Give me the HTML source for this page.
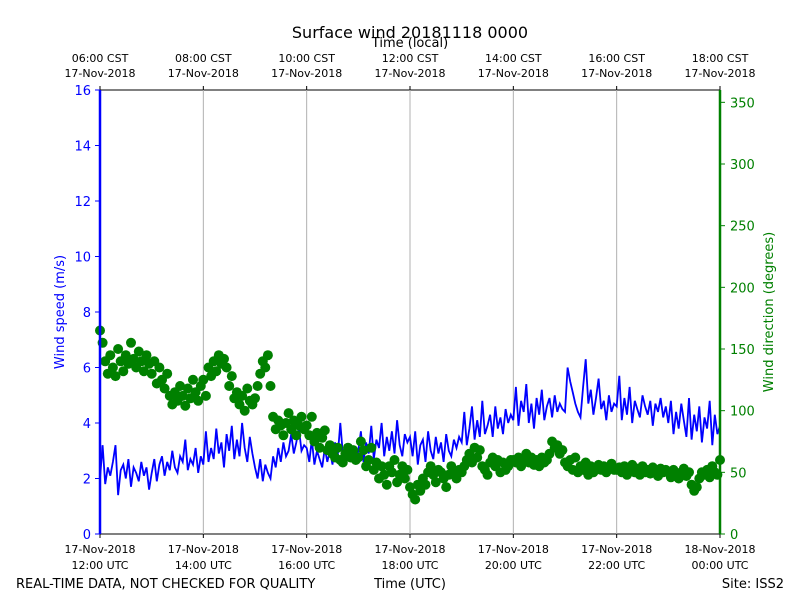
<!DOCTYPE html>
<html><head><meta charset="utf-8"><style>
body{margin:0;background:#fff}
svg text{font-family:"DejaVu Sans","Liberation Sans",sans-serif}
</style></head><body>
<svg id="chart" width="800" height="600" viewBox="0 0 800 600">
<text x="410" y="38" font-size="16" text-anchor="middle">Surface wind 20181118 0000</text>
<text x="410" y="47" font-size="13" text-anchor="middle">Time (local)</text>
<rect x="100" y="90" width="620" height="444" fill="none" stroke="#000"/>
<g id="grid"></g><g id="xticks"></g><g id="yticks"></g>
<g id="speed"></g><g id="dir"></g>
<line x1="100" y1="90" x2="100" y2="534" stroke="blue" stroke-width="2.5"/>
<line x1="720" y1="90" x2="720" y2="534" stroke="green" stroke-width="2.5"/>
<text transform="translate(64,312) rotate(-90)" font-size="13" fill="blue" text-anchor="middle">Wind speed (m/s)</text>
<text transform="translate(773,312) rotate(-90)" font-size="13" fill="green" text-anchor="middle">Wind direction (degrees)</text>
<text x="16" y="588" font-size="13">REAL-TIME DATA, NOT CHECKED FOR QUALITY</text>
<text x="410" y="588" font-size="13" text-anchor="middle">Time (UTC)</text>
<text x="784" y="588" font-size="13" text-anchor="end">Site: ISS2</text>
</svg>
<script>
const utcLabels=["12:00 UTC","14:00 UTC","16:00 UTC","18:00 UTC","20:00 UTC","22:00 UTC","00:00 UTC"];
const utcDates=["17-Nov-2018","17-Nov-2018","17-Nov-2018","17-Nov-2018","17-Nov-2018","17-Nov-2018","18-Nov-2018"];
const cstLabels=["06:00 CST","08:00 CST","10:00 CST","12:00 CST","14:00 CST","16:00 CST","18:00 CST"];
const speedTicks=[0,2,4,6,8,10,12,14,16];
const dirTicks=[0,50,100,150,200,250,300,350];
const speed=[2.0,3.2,1.8,2.4,2.1,2.6,3.2,1.4,2.3,2.5,2.0,2.7,1.7,2.4,2.2,1.9,2.6,2.1,2.4,1.6,
2.2,2.7,1.9,2.5,2.8,2.1,2.6,2.3,3.0,2.4,2.2,2.8,2.6,3.4,2.3,2.7,2.5,3.1,2.2,2.8,
2.5,3.7,2.6,3.1,2.7,3.8,2.9,3.3,2.4,3.6,3.0,3.9,2.7,3.4,2.8,4.0,3.1,2.6,3.5,2.9,
2.4,2.0,2.7,1.9,2.5,2.2,2.0,2.8,2.4,3.1,2.6,3.3,2.8,3.0,3.6,2.9,3.3,3.8,3.0,3.2,
3.1,2.6,3.4,2.5,3.0,2.7,2.4,3.1,2.6,3.0,2.5,3.3,2.8,4.0,2.9,2.6,3.2,2.7,3.0,2.6,
3.0,3.7,2.6,3.3,2.9,3.9,2.7,3.4,3.1,4.0,2.8,3.5,3.0,3.7,2.9,4.1,3.2,2.8,3.6,3.3,
3.5,2.8,3.7,2.5,3.2,3.4,2.6,3.7,3.0,2.7,3.5,2.9,3.3,2.6,3.6,3.0,2.8,3.4,3.1,3.5,
3.3,4.4,3.2,3.8,4.6,3.4,4.1,3.5,4.8,3.6,3.9,4.3,3.5,4.6,3.8,4.2,3.6,4.5,4.0,4.3,
4.1,5.3,3.9,4.8,4.4,5.4,4.0,4.7,3.8,4.9,4.3,5.2,4.1,4.6,4.9,4.2,5.0,4.4,4.7,4.5,
4.4,6.0,5.5,5.1,4.7,4.4,4.2,5.3,6.3,4.7,5.2,4.3,4.9,5.6,4.5,4.8,4.1,5.0,4.4,4.7,
4.6,5.7,4.1,4.9,4.3,5.3,4.0,4.8,4.5,4.2,5.0,4.6,4.3,4.8,3.9,4.7,4.4,4.9,4.2,4.6,
4.0,4.8,3.6,4.4,3.8,4.7,4.1,3.5,4.9,3.4,4.3,3.7,4.6,3.3,4.2,3.8,4.8,3.2,4.3,3.6,3.9];
const direction=[165,155,140,130,145,135,128,150,140,132,145,138,155,142,135,148,140,132,145,138,
130,140,122,135,125,118,130,112,105,115,108,120,112,104,118,110,125,115,108,120,
125,112,135,128,140,132,145,138,142,135,120,128,110,115,105,112,100,118,108,105,
110,120,130,140,135,145,120,95,85,92,88,80,90,98,85,92,80,88,95,85,
88,80,95,75,82,70,78,84,68,72,65,62,70,60,58,65,70,62,68,60,
62,75,68,55,60,70,52,58,45,55,48,40,55,50,60,42,48,55,45,52,
38,32,28,40,35,45,40,50,55,48,42,52,50,45,38,48,55,50,45,52,
50,55,60,65,58,70,62,68,55,52,48,58,62,55,60,50,58,52,55,60,
60,58,62,55,60,65,58,62,56,60,55,62,58,60,65,75,70,72,65,68,
58,55,60,52,62,50,55,52,58,48,55,50,52,56,52,55,50,53,57,52,
52,54,50,55,48,52,56,50,53,48,55,50,52,49,54,51,47,53,50,52,
50,46,52,48,45,50,53,47,50,40,35,38,45,50,48,52,46,55,50,48,60];
const NS="http://www.w3.org/2000/svg";
const X0=100,X1=720,Y0=534,Y1=90;
const xMin=t=>X0+(t/720)*(X1-X0);
const ySp=v=>Y0-(v/16)*(Y0-Y1);
const yDir=v=>Y0-(v/360)*(Y0-Y1);
function mk(tag,attrs,parent){const e=document.createElementNS(NS,tag);for(const k in attrs)e.setAttribute(k,attrs[k]);parent.appendChild(e);return e;}
const grid=document.getElementById('grid'),xt=document.getElementById('xticks'),yt=document.getElementById('yticks');
utcLabels.forEach((l,i)=>{
 const x=xMin(i*120);
 if(i>0&&i<6){const g=mk('line',{x1:x,y1:90,x2:x,y2:534,stroke:'#b0b0b0','stroke-width':1},grid);
 
 }
 mk('line',{x1:x,y1:534,x2:x,y2:538,stroke:'#000'},xt);
 mk('line',{x1:x,y1:90,x2:x,y2:86,stroke:'#000'},xt);
 const t1=mk('text',{x:x,y:553,'font-size':11,'text-anchor':'middle'},xt);t1.textContent=utcDates[i];
 
 
 const t2=mk('text',{x:x,y:569,'font-size':11,'text-anchor':'middle'},xt);t2.textContent=l;
 
 
 const t3=mk('text',{x:x,y:62,'font-size':11,'text-anchor':'middle'},xt);t3.textContent=cstLabels[i];
 
 
 const t4=mk('text',{x:x,y:77,'font-size':11,'text-anchor':'middle'},xt);t4.textContent="17-Nov-2018";
 
 
});
speedTicks.forEach(v=>{const y=ySp(v);
 mk('line',{x1:95,y1:y,x2:100,y2:y,stroke:'blue'},yt);
 const t=mk('text',{x:91,y:y+5,'font-size':13,'text-anchor':'end',fill:'blue'},yt);t.textContent=v;
 
 });
dirTicks.forEach(v=>{const y=yDir(v);
 mk('line',{x1:720,y1:y,x2:725,y2:y,stroke:'green'},yt);
 const t=mk('text',{x:730,y:y+5,'font-size':13,fill:'green'},yt);t.textContent=v;
 
 });
const sp=document.getElementById('speed');
const pts=speed.map((v,i)=>xMin(i*3).toFixed(1)+','+ySp(v).toFixed(1)).join(' ');
const pl=mk('polyline',{points:pts,fill:'none',stroke:'blue','stroke-width':1.8},sp);


const dg=document.getElementById('dir');
direction.forEach((v,i)=>{
 const c=mk('circle',{cx:xMin(i*3).toFixed(1),cy:yDir(v).toFixed(1),r:5,fill:'green'},dg);
 
 
});
</script>
</body></html>
